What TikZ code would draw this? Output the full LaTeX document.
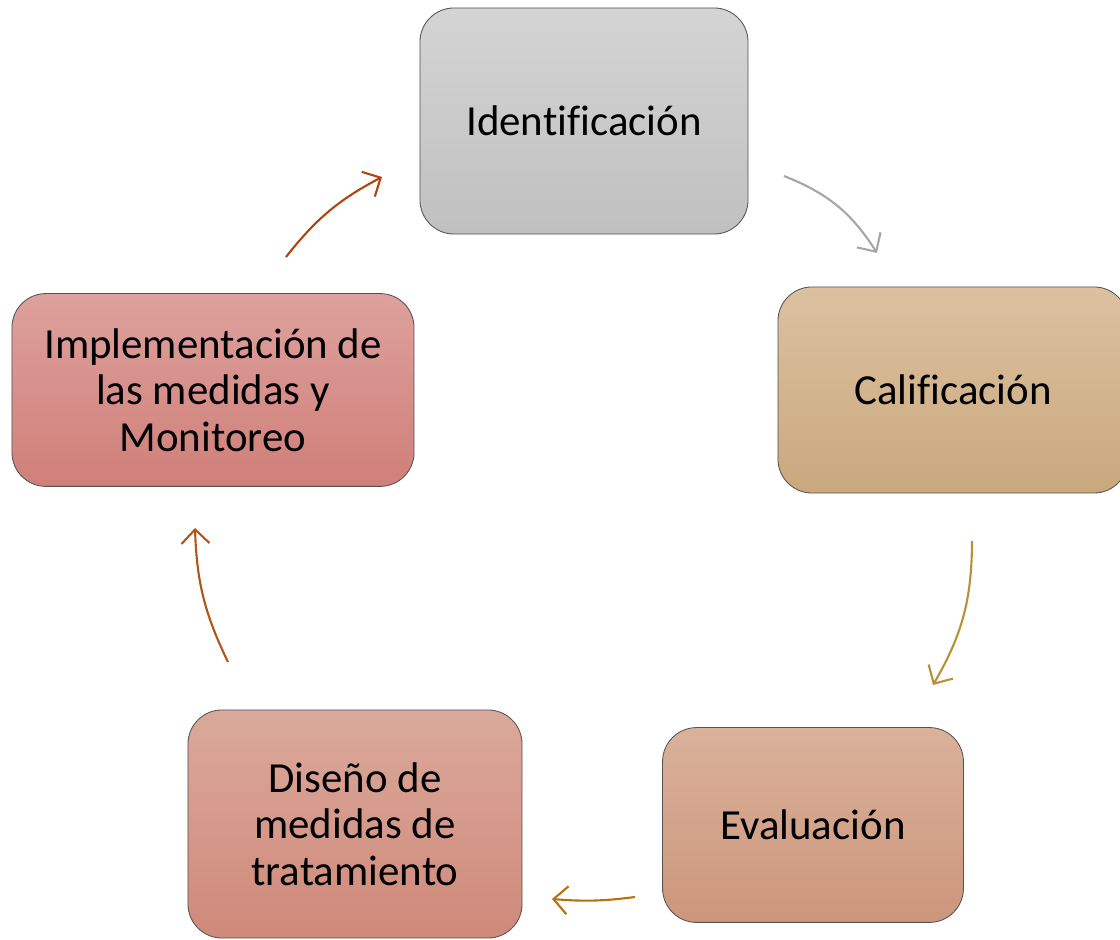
\documentclass[tikz,border=0pt]{standalone}
\usepackage{fontspec}
\setmainfont{Carlito}[Ligatures=CommonOff]
\usetikzlibrary{arrows.meta}

\definecolor{identtop}{HTML}{D4D4D4}
\definecolor{identbot}{HTML}{C0C0C0}
\definecolor{califtop}{HTML}{DCC1A1}
\definecolor{califbot}{HTML}{C9A87D}
\definecolor{evaltop}{HTML}{DAB19B}
\definecolor{evalbot}{HTML}{CC967B}
\definecolor{disetop}{HTML}{DAA99B}
\definecolor{disebot}{HTML}{D0897A}
\definecolor{impltop}{HTML}{DEA19D}
\definecolor{implbot}{HTML}{D07F79}
\definecolor{arrgray}{HTML}{A6A6A6}
\definecolor{arrgold}{HTML}{B8903A}
\definecolor{arrorange}{HTML}{B8700E}
\definecolor{arrbrown}{HTML}{B0561A}
\definecolor{arrred}{HTML}{AF4410}

\begin{document}
\begin{tikzpicture}[
  x=0.025cm, y=0.025cm,
  >={Straight Barb[length=3.5mm,width=7mm]},
  stage/.style={draw=gray!65!black, line width=0.6pt, rounded corners=0.85cm,
                align=center, inner sep=0pt,
                font=\fontsize{30.5}{33}\selectfont},
  cycle arrow/.style={->, line width=1.5pt},
]
\useasboundingbox (0,0) rectangle (1120,940);

% === Stages of the cycle ===
\node[stage, minimum width=8.2cm, minimum height=5.65cm,
      top color=identtop, bottom color=identbot] (ident) at (584,819)
  {Identificación};
\node[stage, minimum width=8.75cm, minimum height=5.15cm,
      top color=califtop, bottom color=califbot] (calif) at (953,550)
  {Calificación};
\node[stage, minimum width=7.52cm, minimum height=4.87cm,
      top color=evaltop, bottom color=evalbot] (evalu) at (813,115)
  {Evaluación};
\node[stage, minimum width=8.35cm, minimum height=5.7cm,
      top color=disetop, bottom color=disebot] (disen) at (355,116)
  {Diseño de\\medidas de\\tratamiento};
\node[stage, minimum width=10.05cm, minimum height=4.82cm,
      top color=impltop, bottom color=implbot] (implem) at (213,550)
  {Implementación de\\las medidas y\\Monitoreo};

% === Arrow ends ===
\coordinate (ident out) at (784,764);
\coordinate (calif in)  at (877,687);
\coordinate (calif out) at (972,399);
\coordinate (evalu in)  at (933,255);
\coordinate (evalu out) at (635,43);
\coordinate (disen in)  at (552,41);
\coordinate (disen out) at (228,278);
\coordinate (implem in) at (195,412);
\coordinate (implem out) at (286,683);
\coordinate (ident in)  at (382,763);

% === Arrows ===
\draw[cycle arrow, arrgray]   (ident out)  to[bend left=18] (calif in);
\draw[cycle arrow, arrgold]   (calif out)  to[bend left=15] (evalu in);
\draw[cycle arrow, arrorange] (evalu out)  to[bend left=6]  (disen in);
\draw[cycle arrow, arrbrown]  (disen out)  to[bend left=12] (implem in);
\draw[cycle arrow, arrred]    (implem out) to[bend left=12] (ident in);

\end{tikzpicture}
\end{document}
